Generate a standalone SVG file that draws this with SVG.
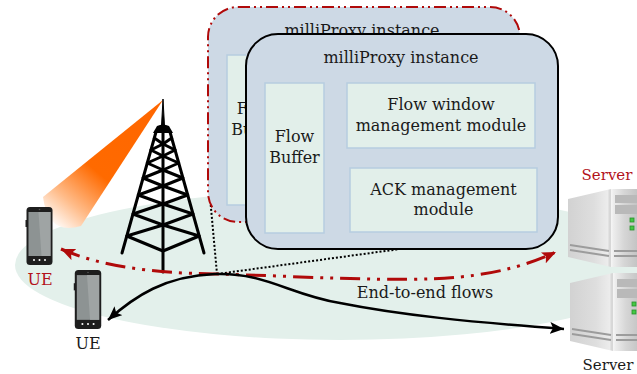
<svg xmlns="http://www.w3.org/2000/svg" xmlns:xlink="http://www.w3.org/1999/xlink" width="637" height="374" viewBox="0 0 637 374">
  <style>
    .lbl { font-family: "DejaVu Serif", "Liberation Serif", serif; font-size: 16px; fill: #1a1a1a; text-anchor: middle; }
    .red { fill: #b3121b; }
    .proxy { fill: #cdd9e5; }
    .module { fill: #e2efea; stroke: #b6cde0; stroke-width: 1.5; }
    .tower { stroke: #000; stroke-width: 3; fill: none; stroke-linecap: round; stroke-linejoin: round; }
    .flow-red { fill: none; stroke: #b00a0a; stroke-width: 3; stroke-dasharray: 20 7 3 7 3 7; }
    .flow-black { fill: none; stroke: #000; stroke-width: 2.5; }
    .dotted { fill: none; stroke: #000; stroke-width: 2; stroke-dasharray: 2 2; }
  </style>
  <defs>
    <linearGradient id="beam" gradientUnits="userSpaceOnUse" x1="163" y1="101" x2="55" y2="228">
      <stop offset="0" stop-color="#ff6600"/>
      <stop offset="0.58" stop-color="#ff6a00"/>
      <stop offset="0.82" stop-color="#ffbb88"/>
      <stop offset="1" stop-color="#ffffff"/>
    </linearGradient>
    <linearGradient id="srvSide" x1="0" y1="0" x2="1" y2="0">
      <stop offset="0" stop-color="#d2d2d2"/>
      <stop offset="0.6" stop-color="#dedede"/>
      <stop offset="0.92" stop-color="#ececec"/>
      <stop offset="1" stop-color="#c8c8c8"/>
    </linearGradient>
    <linearGradient id="srvFront" x1="0" y1="0" x2="1" y2="0">
      <stop offset="0" stop-color="#f2f2f2"/>
      <stop offset="0.5" stop-color="#d6d6d6"/>
      <stop offset="1" stop-color="#c4c4c4"/>
    </linearGradient>
    <clipPath id="backVisible">
      <rect x="200" y="0" width="46" height="240"/>
    </clipPath>
    <marker id="arrRed" markerUnits="userSpaceOnUse" markerWidth="16" markerHeight="12" refX="14" refY="6" orient="auto-start-reverse">
      <path d="M0,0 L14,6 L0,12 L3,6 z" fill="#b00a0a"/>
    </marker>
    <marker id="arrBlack" markerUnits="userSpaceOnUse" markerWidth="16" markerHeight="12" refX="14" refY="6" orient="auto-start-reverse">
      <path d="M0,0 L14,6 L0,12 L3,6 z" fill="#000"/>
    </marker>
    <symbol id="phone" viewBox="0 0 27 58">
      <rect x="1" y="0" width="26" height="58" rx="3.5" fill="#1e1e1e"/>
      <rect x="0" y="13" width="1.6" height="7" fill="#1e1e1e"/>
      <rect x="3" y="5" width="22" height="44" fill="#8d9393"/>
      <polygon points="13,5 25,5 25,49 16,49" fill="#9fa4a4"/>
      <circle cx="14" cy="2.5" r="0.8" fill="#555"/>
      <circle cx="8.5" cy="53" r="1" fill="#fff"/>
      <circle cx="14" cy="53" r="1" fill="#fff"/>
      <circle cx="19.5" cy="53" r="1" fill="#fff"/>
    </symbol>
    <g id="serverShape">
      <polygon points="568,199 611,189 611,267 568,257" fill="url(#srvSide)"/>
      <polygon points="611,189 637,189 637,267 611,267" fill="url(#srvFront)"/>
      <line x1="611.5" y1="189" x2="611.5" y2="267" stroke="#f4f4f4" stroke-width="1.5"/>
      <rect x="615" y="195" width="22" height="8" fill="#b9b9b9"/>
      <rect x="615" y="205" width="22" height="9" fill="#b9b9b9"/>
      <rect x="630" y="218" width="4" height="4" fill="#44c844" stroke="#2b8f2b" stroke-width="0.8"/>
      <rect x="630" y="226" width="4" height="4" fill="#44c844" stroke="#2b8f2b" stroke-width="0.8"/>
      <line x1="570" y1="245" x2="609" y2="251" stroke="#9c9c9c" stroke-width="2"/>
      <line x1="570" y1="250" x2="609" y2="256" stroke="#9c9c9c" stroke-width="2"/>
      <line x1="614" y1="251" x2="637" y2="251" stroke="#9c9c9c" stroke-width="2"/>
      <line x1="614" y1="256" x2="637" y2="256" stroke="#9c9c9c" stroke-width="2"/>
    </g>
  </defs>

  <!-- coverage area -->
  <ellipse cx="340" cy="265" rx="325" ry="75" fill="#e3f0eb"/>

  <!-- radio beam from the base station -->
  <path d="M163,100 L43,197 Q48,236 81,226 Z" fill="url(#beam)"/>

  <!-- base station -->
  <g id="tower">
    <path d="M161.5,126 L163,99 L164.5,126 Z" fill="#000" stroke="#000" stroke-width="1"/>
    <path d="M153,133 L157,126 Q163,123 169,126 L173,133 Z" fill="#000"/>
    <line class="tower" x1="156" y1="132" x2="122" y2="253"/>
    <line class="tower" x1="170" y1="132" x2="204" y2="253"/>
    <line class="tower" x1="163" y1="130" x2="163" y2="272" stroke-width="3.2"/>
    <polyline class="tower" stroke-width="2.8" points="154.3,138 163,144 150.9,150 163,156 147.3,163 163,170 143.1,178 163,186 138.3,195 163,204 133,214 163,225 126.8,236 163,251"/>
    <polyline class="tower" stroke-width="2.8" points="171.7,138 163,144 175.1,150 163,156 178.7,163 163,170 182.9,178 163,186 187.7,195 163,204 193,214 163,225 199.2,236 163,251"/>
  </g>

  <!-- flows and callout lines -->
  <g id="connectors">
    <path class="dotted" d="M210,197 L217,274"/>
    <path class="dotted" d="M217,274 L400,249"/>
    <path class="flow-red" marker-start="url(#arrRed)" marker-end="url(#arrRed)" d="M61,249 C100,266 150,273 215,274 C300,276 400,283 460,277 C500,273 530,264 556,252"/>
    <path class="flow-black" marker-start="url(#arrBlack)" marker-end="url(#arrBlack)" d="M108,320 C135,296 165,276 215,274 C265,272 290,295 340,303 C400,315 470,322 564,329"/>
    <text class="lbl" x="425" y="298">End-to-end flows</text>
  </g>

  <!-- proxy instance (behind) -->
  <g id="proxy-back">
    <rect class="proxy" x="208" y="7" width="312" height="215" rx="30" stroke="#b00a0a" stroke-width="2" stroke-dasharray="12 4 2 4 2 4"/>
    <text class="lbl" x="362" y="36">milliProxy instance</text>
    <g clip-path="url(#backVisible)">
      <rect class="module" x="227" y="55" width="59" height="150"/>
      <text class="lbl" x="256.5" y="114">Flow</text>
      <text class="lbl" x="256.5" y="135">Buffer</text>
    </g>
  </g>

  <!-- proxy instance (front) -->
  <g id="proxy-front">
    <rect class="proxy" x="246" y="34" width="312" height="215" rx="32" stroke="#000" stroke-width="2"/>
    <text class="lbl" x="401" y="63">milliProxy instance</text>
    <g id="flow-buffer">
      <rect class="module" x="265" y="83" width="59" height="150"/>
      <text class="lbl" x="294.5" y="142">Flow</text>
      <text class="lbl" x="294.5" y="163">Buffer</text>
    </g>
    <g id="flow-window">
      <rect class="module" x="347" y="83" width="188" height="65"/>
      <text class="lbl" x="441" y="110">Flow window</text>
      <text class="lbl" x="441" y="131">management module</text>
    </g>
    <g id="ack-module">
      <rect class="module" x="350" y="168" width="187" height="64"/>
      <text class="lbl" x="443.5" y="195">ACK management</text>
      <text class="lbl" x="443.5" y="215">module</text>
    </g>
  </g>

  <!-- user equipment -->
  <g id="ue-1">
    <use xlink:href="#phone" x="25" y="207" width="28" height="58"/>
    <text class="lbl red" x="40" y="285">UE</text>
  </g>
  <g id="ue-2">
    <use xlink:href="#phone" x="73" y="270" width="29" height="59"/>
    <text class="lbl" x="88" y="349">UE</text>
  </g>

  <!-- servers -->
  <g id="server-1">
    <use xlink:href="#serverShape"/>
    <text class="lbl red" x="607" y="180" style="font-size:15px">Server</text>
  </g>
  <g id="server-2">
    <use xlink:href="#serverShape" transform="translate(2,84)"/>
    <text class="lbl" x="608" y="370" style="font-size:15px">Server</text>
  </g>
</svg>
